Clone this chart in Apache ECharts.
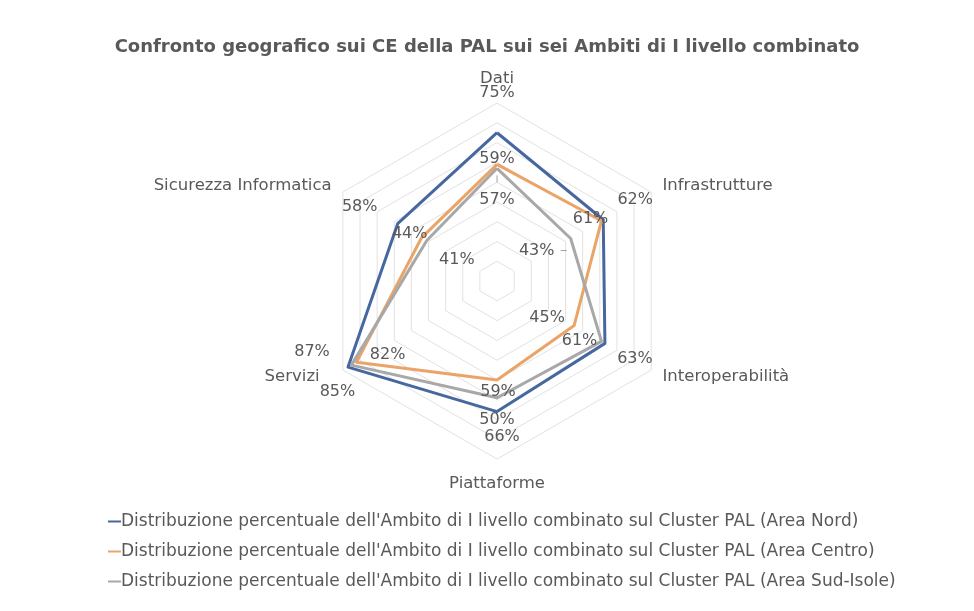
<!DOCTYPE html>
<html>
<head>
<meta charset="utf-8">
<script src="https://cdn.jsdelivr.net/npm/echarts@6/dist/echarts.min.js"></script>
<style>
html,body{margin:0;padding:0;background:#fff;}
#c{width:974px;height:611px;}
</style>
</head>
<body>
<div id="c"></div>
<script>
// ---- data ----
const titleText = "Confronto geografico sui CE della PAL sui sei Ambiti di I livello combinato";
const ambiti = ["Dati", "Infrastrutture", "Interoperabilità", "Piattaforme", "Servizi", "Sicurezza Informatica"];
const seriesNames = [
  "Distribuzione percentuale dell'Ambito di I livello combinato sul Cluster PAL (Area Nord)",
  "Distribuzione percentuale dell'Ambito di I livello combinato sul Cluster PAL (Area Centro)",
  "Distribuzione percentuale dell'Ambito di I livello combinato sul Cluster PAL (Area Sud-Isole)"
];
const areaNord = [75, 62, 63, 66, 87, 58];
const areaCentro = [59, 61, 45, 50, 82, 44];
const areaSudIsole = [57, 43, 61, 59, 85, 41];
const axisMax = 90;

// ---- styling / layout (not data) ----
const colors = ['#46679F', '#EBA467', '#A8A8A8'];
const textColor = '#595959';
const fontFam = "'DejaVu Sans', sans-serif";
const fsLabel = 16, fsName = 16.5, fsLegend = 17;
// label offsets (px) from each vertex, per series, per ambito (Excel order)
const labelOffsets = [
  [[0,-40],[32,-20],[30,15],[5,25],[-36,-15],[-38,-17]],
  [[0,-6],[-11,-2],[-27,-8],[0,40],[31,-7],[-12,-4]],
  [[0,32],[-34,12],[-22,-1],[1,-6],[-14,27],[30,19]]
];
// extra padding for axis names [top,right,bottom,left]
const namePad = {
  "Dati": [0,0,3,0],
  "Infrastrutture": [0,0,0,0],
  "Interoperabilità": [0,0,0,0],
  "Piattaforme": [3,0,0,0],
  "Servizi": [0,12,0,0],
  "Sicurezza Informatica": [0,0,0,0]
};
const richNames = {};
ambiti.forEach((n, i) => { richNames['n' + i] = {padding: namePad[n], color: textColor, fontSize: fsName, fontFamily: fontFam}; });

// ECharts radar runs counter-clockwise; Excel runs clockwise -> reorder
const order = [0, 5, 4, 3, 2, 1];
const reorder = arr => order.map(i => arr[i]);
const allSeries = [areaNord, areaCentro, areaSudIsole];

const chart = echarts.init(document.getElementById('c'), null, {renderer: 'canvas'});
const option = {
  animation: false,
  backgroundColor: '#fff',
  title: {
    text: titleText,
    left: 'center',
    top: 33,
    textStyle: {color: textColor, fontSize: 18, fontWeight: 'bold', fontFamily: fontFam}
  },
  legend: {
    orient: 'vertical',
    left: 103,
    top: 508,
    itemGap: 13,
    itemWidth: 13,
    itemHeight: 2,
    icon: 'rect',
    textStyle: {color: textColor, fontSize: fsLegend, fontFamily: fontFam, padding: [0,0,0,-5]},
    data: seriesNames
  },
  radar: {
    center: ['51.03%', '46%'],
    radius: 178,
    startAngle: 90,
    shape: 'polygon',
    splitNumber: 9,
    nameGap: 13,
    axisName: {
      color: textColor, fontSize: fsName, fontFamily: fontFam,
      formatter: name => '{n' + ambiti.indexOf(name) + '|' + name + '}',
      rich: richNames
    },
    axisLine: {show: false},
    splitLine: {lineStyle: {color: '#e2e2e2', width: 1}},
    splitArea: {show: false},
    indicator: reorder(ambiti).map(n => ({name: n, min: 0, max: axisMax}))
  },
  series: [{
    type: 'radar',
    symbol: 'none',
    data: allSeries.map((vals, k) => ({
      name: seriesNames[k],
      value: reorder(vals),
      lineStyle: {color: colors[k], width: 3},
      itemStyle: {color: colors[k]}
    }))
  }]
};
chart.setOption(option);

// data labels placed from the library's own radar coordinate system
const cs = chart.getModel().getComponent('radar', 0).coordinateSystem;
const graphics = [];
allSeries.forEach((vals, k) => {
  vals.forEach((v, i) => {
    const pos = order.indexOf(i);
    const p = cs.dataToPoint(v, pos);
    const off = labelOffsets[k][i];
    graphics.push({
      type: 'text',
      x: p[0] + off[0],
      y: p[1] + off[1],
      z: 100,
      style: {
        text: v + '%',
        fill: textColor,
        fontSize: fsLabel,
        fontFamily: fontFam,
        align: 'center',
        verticalAlign: 'middle'
      }
    });
  });
});
// leader lines for the two displaced labels (Sud-Isole: Infrastrutture, Dati)
const pInf = cs.dataToPoint(areaSudIsole[1], order.indexOf(1));
graphics.push({type: 'line', z: 100, shape: {x1: pInf[0] - 10, y1: pInf[1] + 12, x2: pInf[0] - 4, y2: pInf[1] + 12},
  style: {stroke: '#a0a0a0', lineWidth: 1}});
const pDat = cs.dataToPoint(areaSudIsole[0], order.indexOf(0));
graphics.push({type: 'line', z: 100, shape: {x1: pDat[0], y1: pDat[1] + 7, x2: pDat[0], y2: pDat[1] + 14},
  style: {stroke: '#a0a0a0', lineWidth: 1}});
chart.setOption({graphic: graphics});
</script>
</body>
</html>
